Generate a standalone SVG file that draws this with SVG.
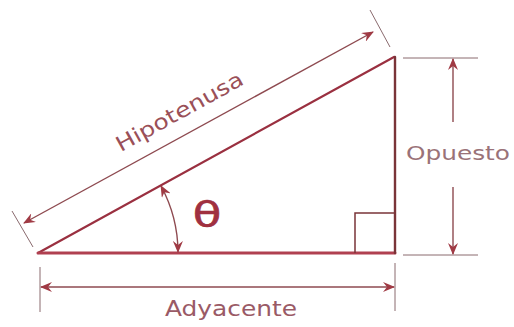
<svg xmlns="http://www.w3.org/2000/svg" width="514" height="327" viewBox="0 0 514 327">
  <style>
    .side { fill: none; stroke-linecap: round; }
    .dim { fill: none; stroke: #8e4a50; stroke-width: 1.4; }
    .ext { fill: none; stroke: #8a6a6e; stroke-width: 1; }
    .lbl { font-family: "DejaVu Sans", "Liberation Sans", sans-serif; }
  </style>
  <defs>
    <marker id="ah" viewBox="0 0 12 10" refX="11" refY="5" markerWidth="12" markerHeight="10" markerUnits="userSpaceOnUse" orient="auto-start-reverse">
      <path d="M0,0 L12,5 L0,10 L4,5 z" fill="#a03a44"/>
    </marker>
  </defs>
  <rect width="514" height="327" fill="#ffffff"/>

  <g id="triangle">
    <line class="side" x1="38" y1="253" x2="394" y2="57" stroke="#9a3040" stroke-width="2.2"/>
    <line class="side" x1="38" y1="253" x2="395" y2="253" stroke="#b04050" stroke-width="3"/>
    <line class="side" x1="395" y1="57" x2="395" y2="253" stroke="#7a3438" stroke-width="2.4"/>
  </g>

  <g id="right-angle">
    <polyline points="355,253 355,213 395,213" fill="none" stroke="#7a3438" stroke-width="1.5"/>
  </g>

  <g id="connectors">
    <!-- hypotenuse dimension -->
    <line class="ext" x1="12" y1="211" x2="33" y2="247"/>
    <line class="ext" x1="370" y1="10" x2="390" y2="47"/>
    <line class="dim" x1="24" y1="223" x2="373" y2="32" marker-start="url(#ah)" marker-end="url(#ah)"/>
    <!-- adjacent dimension -->
    <line class="ext" x1="40" y1="267" x2="40" y2="312"/>
    <line class="ext" x1="395" y1="263" x2="395" y2="311"/>
    <line class="dim" x1="41" y1="287" x2="394" y2="287" marker-start="url(#ah)" marker-end="url(#ah)"/>
    <!-- opposite dimension -->
    <line class="ext" x1="403" y1="58" x2="478" y2="58"/>
    <line class="ext" x1="403" y1="255" x2="478" y2="255"/>
    <line class="dim" x1="453" y1="122" x2="453" y2="59" marker-end="url(#ah)"/>
    <line class="dim" x1="453" y1="187" x2="453" y2="254" marker-end="url(#ah)"/>
    <!-- angle arc -->
    <path class="dim" d="M161,186 A140,140 0 0 1 178,252" stroke-width="1.8" marker-start="url(#ah)" marker-end="url(#ah)"/>
  </g>

  <g id="label-hipotenusa">
    <text class="lbl" x="0" y="0" font-size="21" fill="#9a5058" text-anchor="middle" textLength="142" lengthAdjust="spacingAndGlyphs" transform="translate(183,118) rotate(-28.9)">Hipotenusa</text>
  </g>
  <g id="label-theta">
    <text class="lbl" x="0" y="0" font-size="36" fill="#a03040" text-anchor="middle" stroke="#a03040" stroke-width="0.6" transform="translate(207,227) scale(1.3,1)">θ</text>
  </g>
  <g id="label-opuesto">
    <text class="lbl" x="458" y="160" font-size="20" fill="#9a7278" text-anchor="middle" textLength="104" lengthAdjust="spacingAndGlyphs">Opuesto</text>
  </g>
  <g id="label-adyacente">
    <text class="lbl" x="231" y="316" font-size="22" fill="#9a5a66" text-anchor="middle" textLength="132" lengthAdjust="spacingAndGlyphs">Adyacente</text>
  </g>
</svg>
